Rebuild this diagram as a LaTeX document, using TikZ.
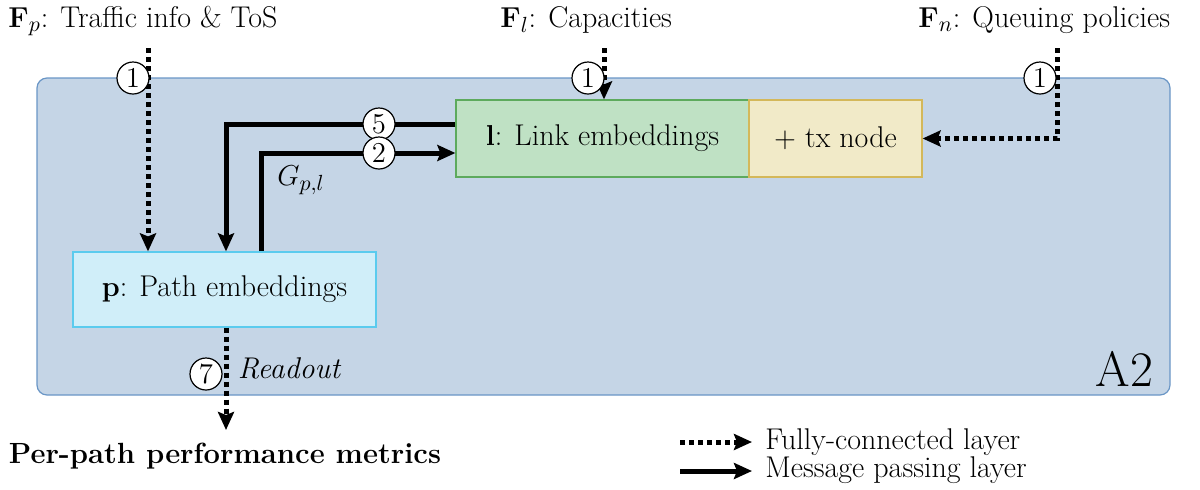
\documentclass[tikz,border=0pt]{standalone}
\usepackage[no-math]{fontspec}
\usetikzlibrary{arrows.meta}
\definecolor{bigfill}{HTML}{C5D5E6}
\definecolor{bigborder}{HTML}{6A96C6}
\definecolor{linkfill}{HTML}{BFE1C4}
\definecolor{linkborder}{HTML}{5DAA5D}
\definecolor{txfill}{HTML}{F1EAC8}
\definecolor{txborder}{HTML}{D4B85A}
\definecolor{pathfill}{HTML}{D0EEF9}
\definecolor{pathborder}{HTML}{5BCBEE}
\begin{document}
\begin{tikzpicture}[x=0.5pt,y=-0.5pt,
  every node/.style={font=\fontsize{15}{18}\selectfont},
  box/.style={draw, line width=0.6pt, inner sep=0pt},
  mp/.style={line width=2.5pt, -{Stealth[length=9pt,width=8pt,inset=1.5pt]}},
  fc/.style={line width=2.5pt, dash pattern=on 2.5pt off 2pt, -{Stealth[length=9pt,width=8pt,inset=1.5pt]}},
  num/.style={circle, draw, fill=white, line width=0.6pt, minimum size=16pt, inner sep=0pt}
]
\useasboundingbox (0,0) rectangle (1200,489);

% container
\node[draw=bigborder, fill=bigfill, rounded corners=5pt, line width=0.6pt,
      minimum width=566.5pt, minimum height=158.5pt, inner sep=0pt] (A) at (603.5,236.5) {};
\node[font=\fontsize{33}{38}\selectfont, anchor=base east] (a2) at (1160,386) {$\mathrm{A2}$};

% boxes
\node[box, draw=linkborder, fill=linkfill, minimum width=146.5pt, minimum height=38.5pt] (link) at (602.5,138.5) {$\mathbf{l}$: Link embeddings};
\node[box, draw=txborder, fill=txfill, minimum width=86.5pt, minimum height=38.5pt] (tx) at (835.5,138.5) {$+$ tx node};
\node[box, draw=pathborder, fill=pathfill, minimum width=151.5pt, minimum height=37.5pt] (path) at (224.5,289.5) {$\mathbf{p}$: Path embeddings};

% titles
\node[anchor=base west, inner sep=0pt] (tp) at (8,27) {$\mathbf{F}_p$: Traffic info \& ToS};
\node[anchor=base west, inner sep=0pt] (tl) at (500,27) {$\mathbf{F}_l$: Capacities};
\node[anchor=base west, inner sep=0pt] (tn) at (918,27) {$\mathbf{F}_n$: Queuing policies};

\coordinate (fpS) at (148,48);
\coordinate (flS) at (604,48);
\coordinate (fnS) at (1057,48);

% fully connected inputs
\draw[fc] (fpS) -- (fpS |- path.north);
\draw[fc] (flS) -- (flS |- link.north);
\draw[fc] (fnS) |- (tx.east);

% message passing
\coordinate (c5) at (226,124);
\coordinate (c2) at (261,153);
\draw[mp] (link.west |- c5) -- (c5) -- (c5 |- path.north);
\draw[mp] (c2 |- path.north) -- (c2) -- (c2 -| link.west);
\node (g) at (301,180) {$G_{p,l}$};

% readout
\node[anchor=base, font=\fontsize{14.6}{17}\selectfont\bfseries] (out) at (225,463) {Per-path performance metrics};
\coordinate (ro) at (226,430);
\draw[fc] (path.south -| ro) -- (ro);
\node[font=\fontsize{15}{18}\selectfont\itshape] (rd) at (289,368) {Readout};

% numbered circles
\node[num] (n1a) at (133,78) {$1$};
\node[num] (n1b) at (588,78) {$1$};
\node[num] (n1c) at (1040,78) {$1$};
\node[num] (n5) at (379,124) {$5$};
\node[num] (n2) at (379,153) {$2$};
\node[num] (n7) at (206,374) {$7$};

% legend
\coordinate (l1s) at (680,442);
\coordinate (l1e) at (752,442);
\coordinate (l2s) at (680,471);
\coordinate (l2e) at (752,471);
\draw[fc] (l1s) -- (l1e);
\draw[mp] (l2s) -- (l2e);
\node[anchor=base west, inner sep=0pt] (lg1) at (765,449) {Fully-connected layer};
\node[anchor=base west, inner sep=0pt] (lg2) at (765,477) {Message passing layer};
\end{tikzpicture}
\end{document}
